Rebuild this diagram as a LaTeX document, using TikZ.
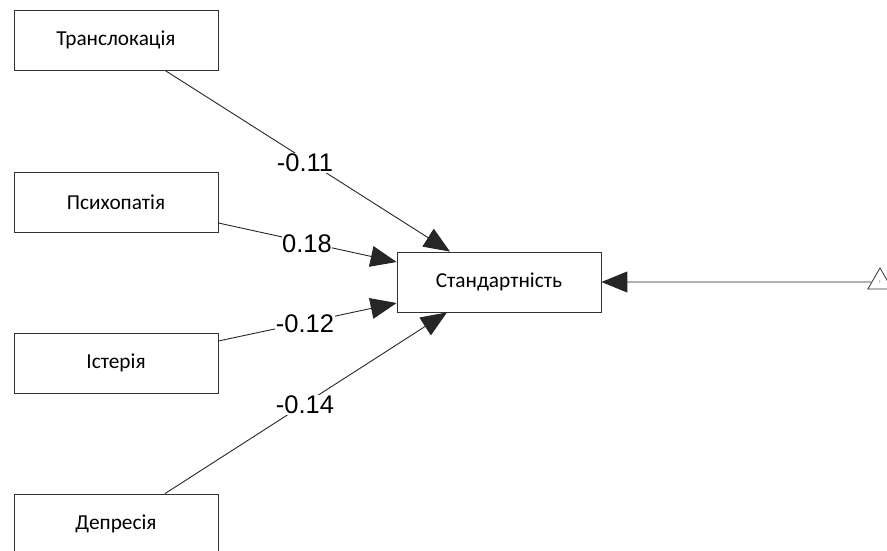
\documentclass[tikz,border=0pt]{standalone}
\usepackage{fontspec}
\setmainfont{Carlito}
\newfontfamily\lblfont{Liberation Sans}
\usetikzlibrary{arrows.meta,shapes.geometric}
\begin{document}
\begin{tikzpicture}[x=1pt,y=-1pt,
  box/.style={draw=black!80,line width=0.8pt,minimum width=204pt,minimum height=60pt,inner sep=0pt,font=\fontsize{21.3}{24}\selectfont},
  arr/.style={draw=black!85,line width=0.9pt,-{Triangle[length=26pt,width=21pt]}},
  lbl/.style={fill=white,inner sep=0.5pt,font=\lblfont\fontsize{25.5}{28}\selectfont}]
\useasboundingbox (0,0) rectangle (887,551);
\node[box] (t) at (116,40) {Транслокація};
\node[box] (p) at (116,202) {Психопатія};
\node[box] (i) at (116,363) {Істерія};
\node[box] (d) at (116,524) {Депресія};
\node[box] (s) at (499,282) {Стандартність};
\node[regular polygon,regular polygon sides=3,draw=black!80,line width=0.8pt,minimum size=28pt,inner sep=0pt,font=\fontsize{4}{4}\selectfont] (tri) at (880,282) {!};
\draw[arr] ([xshift=49pt]t.south) -- ([xshift=-49pt]s.north);
\draw[arr] ([yshift=-21pt]p.east) -- ([yshift=20pt]s.west);
\draw[arr] ([yshift=22pt]i.east) -- ([yshift=-21pt]s.west);
\draw[arr] ([xshift=49pt]d.north) -- ([xshift=-52pt]s.south);
\draw[arr] (tri) -- (s.east);
\node[lbl] (l1) at (305,163) {-0.11};
\node[lbl] (l2) at (307,244) {0.18};
\node[lbl] (l3) at (305,324) {-0.12};
\node[lbl] (l4) at (305,405) {-0.14};
\end{tikzpicture}
\end{document}
